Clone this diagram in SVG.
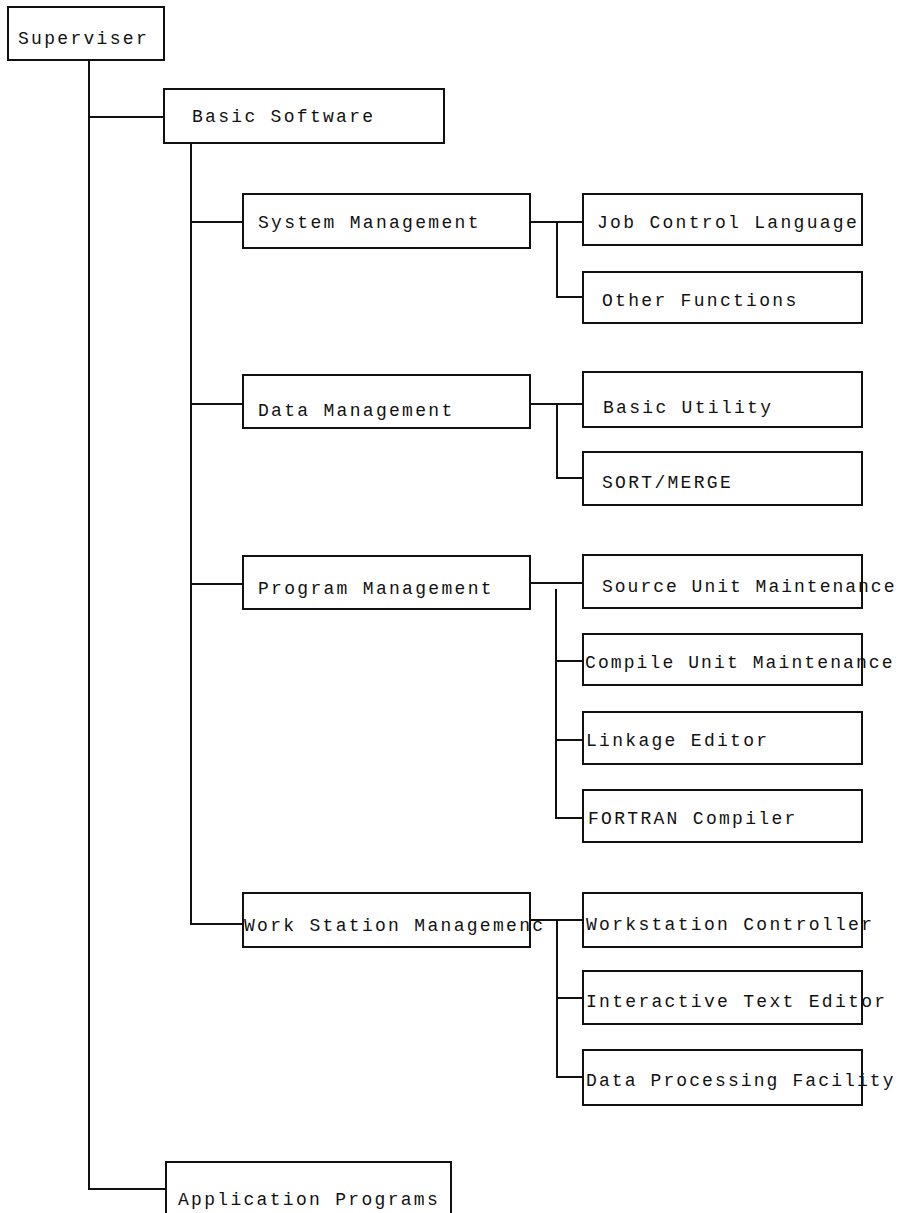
<svg xmlns="http://www.w3.org/2000/svg" width="905" height="1213" viewBox="0 0 905 1213">
<style>
.box{fill:#fff;stroke:#111;stroke-width:2}
.lbl{font-family:"Liberation Mono","DejaVu Sans Mono",monospace;font-size:18px;letter-spacing:2.3px;fill:#111}
.con{fill:none;stroke:#111;stroke-width:2}
</style>
<rect width="905" height="1213" fill="#fff"/>
<g id="connectors">
<path class="con" d="M89,60 V1189 H166"/>
<path class="con" d="M89,117 H164"/>
<path class="con" d="M191,143 V924 H243"/>
<path class="con" d="M191,222 H243 M191,404 H243 M191,584 H243"/>
<path class="con" d="M530,222 H583 M557,222 V297 H583"/>
<path class="con" d="M530,404 H583 M557,404 V478 H583"/>
<path class="con" d="M530,583 H583 M556,589 V818 H583 M556,661 H583 M556,740 H583"/>
<path class="con" d="M530,920 H583 M557,920 V1077 H583 M557,998 H583"/>
</g>
<g id="superviser"><rect class="box" x="8" y="7" width="156" height="53"/><text class="lbl" x="18" y="44">Superviser</text></g>
<g id="basic-software"><rect class="box" x="164" y="89" width="280" height="54"/><text class="lbl" x="192" y="122">Basic Software</text></g>
<g id="system-management"><rect class="box" x="243" y="194" width="287" height="54"/><text class="lbl" x="258" y="228">System Management</text></g>
<g id="job-control-language"><rect class="box" x="583" y="194" width="279" height="51"/><text class="lbl" x="597" y="228">Job Control Language</text></g>
<g id="other-functions"><rect class="box" x="583" y="272" width="279" height="51"/><text class="lbl" x="602" y="306">Other Functions</text></g>
<g id="data-management"><rect class="box" x="243" y="375" width="287" height="53"/><text class="lbl" x="258" y="416">Data Management</text></g>
<g id="basic-utility"><rect class="box" x="583" y="372" width="279" height="55"/><text class="lbl" x="603" y="413">Basic Utility</text></g>
<g id="sort-merge"><rect class="box" x="583" y="452" width="279" height="53"/><text class="lbl" x="602" y="488">SORT/MERGE</text></g>
<g id="program-management"><rect class="box" x="243" y="556" width="287" height="53"/><text class="lbl" x="258" y="594">Program Management</text></g>
<g id="source-unit-maintenance"><rect class="box" x="583" y="555" width="279" height="53"/><text class="lbl" x="602" y="592" style="letter-spacing:2px">Source Unit Maintenance</text></g>
<g id="compile-unit-maintenance"><rect class="box" x="583" y="634" width="279" height="51"/><text class="lbl" x="585" y="668" style="letter-spacing:2.1px">Compile Unit Maintenance</text></g>
<g id="linkage-editor"><rect class="box" x="583" y="712" width="279" height="52"/><text class="lbl" x="586" y="746">Linkage Editor</text></g>
<g id="fortran-compiler"><rect class="box" x="583" y="790" width="279" height="52"/><text class="lbl" x="588" y="824">FORTRAN Compiler</text></g>
<g id="work-station-management"><rect class="box" x="243" y="893" width="287" height="54"/><text class="lbl" x="244" y="931">Work Station Managemenc</text></g>
<g id="workstation-controller"><rect class="box" x="583" y="893" width="279" height="54"/><text class="lbl" x="586" y="930">Workstation Controller</text></g>
<g id="interactive-text-editor"><rect class="box" x="583" y="971" width="279" height="53"/><text class="lbl" x="586" y="1007">Interactive Text Editor</text></g>
<g id="data-processing-facility"><rect class="box" x="583" y="1050" width="279" height="55"/><text class="lbl" x="586" y="1086" style="letter-spacing:2.1px">Data Processing Facility</text></g>
<g id="application-programs"><rect class="box" x="166" y="1162" width="285" height="60"/><text class="lbl" x="178" y="1205">Application Programs</text></g>
</svg>
